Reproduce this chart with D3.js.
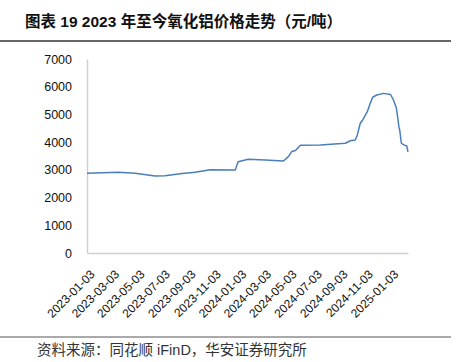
<!DOCTYPE html>
<html>
<head>
<meta charset="utf-8">
<script src="https://cdn.jsdelivr.net/npm/d3@7"></script>
<style>
  body { margin: 0; background: #fff; }
  svg text { font-family: "Liberation Sans", "Noto Sans CJK SC", sans-serif; }
</style>
</head>
<body>
<div id="chart"></div>
<script>
// price series (元/吨)
var dates = [
  "2023-01-03", "2023-02-10", "2023-03-19", "2023-04-29", "2023-06-16", "2023-07-10",
  "2023-08-15", "2023-09-20", "2023-10-27", "2023-12-26", "2024-01-02", "2024-01-26",
  "2024-03-07", "2024-04-20", "2024-05-02", "2024-05-10", "2024-05-19", "2024-05-31",
  "2024-07-18", "2024-09-16", "2024-09-28", "2024-10-10", "2024-10-15", "2024-10-22",
  "2024-10-28", "2024-11-08", "2024-11-15", "2024-11-21", "2024-12-01", "2024-12-17",
  "2025-01-03", "2025-01-10", "2025-01-17", "2025-01-20", "2025-01-23", "2025-01-25",
  "2025-01-29", "2025-02-04", "2025-02-11", "2025-02-14"
];
var prices = [
  2880, 2900, 2910, 2880, 2780, 2790,
  2860, 2910, 3000, 2995, 3290, 3380,
  3360, 3320, 3475, 3660, 3700, 3890,
  3900, 3960, 4050, 4080, 4260, 4680,
  4800, 5100, 5400, 5620, 5700, 5760,
  5720, 5520, 5230, 4920, 4560, 4440,
  3960, 3900, 3860, 3650
];
var xTicks = [
  "2023-01-03", "2023-03-03", "2023-05-03", "2023-07-03", "2023-09-03", "2023-11-03",
  "2024-01-03", "2024-03-03", "2024-05-03", "2024-07-03", "2024-09-03", "2024-11-03",
  "2025-01-03"
];
var yTicks = [0, 1000, 2000, 3000, 4000, 5000, 6000, 7000];

var parse = d3.timeParse("%Y-%m-%d");
var fmt = d3.timeFormat("%Y-%m-%d");
var data = dates.map(function(d, i) { return { date: parse(d), value: prices[i] }; });

const width = 462, height = 362;
const plotLeft = 87, plotRight = 408, plotTop = 59, plotBottom = 253;

const svg = d3.select("#chart").append("svg")
  .attr("width", width)
  .attr("height", height);

// title and rules
svg.append("text")
  .attr("x", 25).attr("y", 27)
  .attr("font-size", 15.5).attr("font-weight", "bold").attr("fill", "#111")
  .text("图表 19 2023 年至今氧化铝价格走势（元/吨）");
svg.append("line")
  .attr("x1", 0).attr("x2", 451).attr("y1", 41).attr("y2", 41)
  .attr("stroke", "#333").attr("stroke-width", 1.5);
svg.append("line")
  .attr("x1", 0).attr("x2", 451).attr("y1", 337).attr("y2", 337)
  .attr("stroke", "#555").attr("stroke-width", 1);
svg.append("text")
  .attr("x", 37).attr("y", 355)
  .attr("font-size", 14.5).attr("fill", "#333")
  .text("资料来源：同花顺 iFinD，华安证券研究所");

const xScale = d3.scaleTime()
  .domain([parse("2023-01-03"), parse("2025-02-14")])
  .range([plotLeft, plotRight]);
const yScale = d3.scaleLinear()
  .domain([0, 7000])
  .range([plotBottom, plotTop]);

// y axis
const yAxis = d3.axisLeft(yScale).tickValues(yTicks).tickFormat(d3.format("d"))
  .tickSize(0).tickPadding(15);
const yG = svg.append("g").attr("transform", "translate(" + plotLeft + ",0)").call(yAxis);
yG.select(".domain").attr("stroke", "#d0d0d0").attr("stroke-width", 1.5);
yG.selectAll("text").attr("font-size", 12.5).attr("fill", "#111")
  .style("font-family", "Liberation Sans, sans-serif");

// x axis
const xAxis = d3.axisBottom(xScale)
  .tickValues(xTicks.map(parse))
  .tickFormat(fmt)
  .tickSize(0);
const xG = svg.append("g").attr("transform", "translate(0," + plotBottom + ")").call(xAxis);
xG.select(".domain").attr("stroke", "#d0d0d0").attr("stroke-width", 1.5);
xG.selectAll("text")
  .attr("font-size", 12).attr("fill", "#111")
  .style("font-family", "Liberation Sans, sans-serif")
  .attr("text-anchor", "end")
  .attr("dy", "0.35em")
  .attr("transform", "translate(3,17) rotate(-45)");

// price line
const line = d3.line()
  .x(function(d) { return xScale(d.date); })
  .y(function(d) { return yScale(d.value); });
svg.append("path")
  .datum(data)
  .attr("d", line)
  .attr("fill", "none")
  .attr("stroke", "#4a7ebb")
  .attr("stroke-width", 1.5)
  .attr("stroke-linejoin", "round");
</script>
</body>
</html>
